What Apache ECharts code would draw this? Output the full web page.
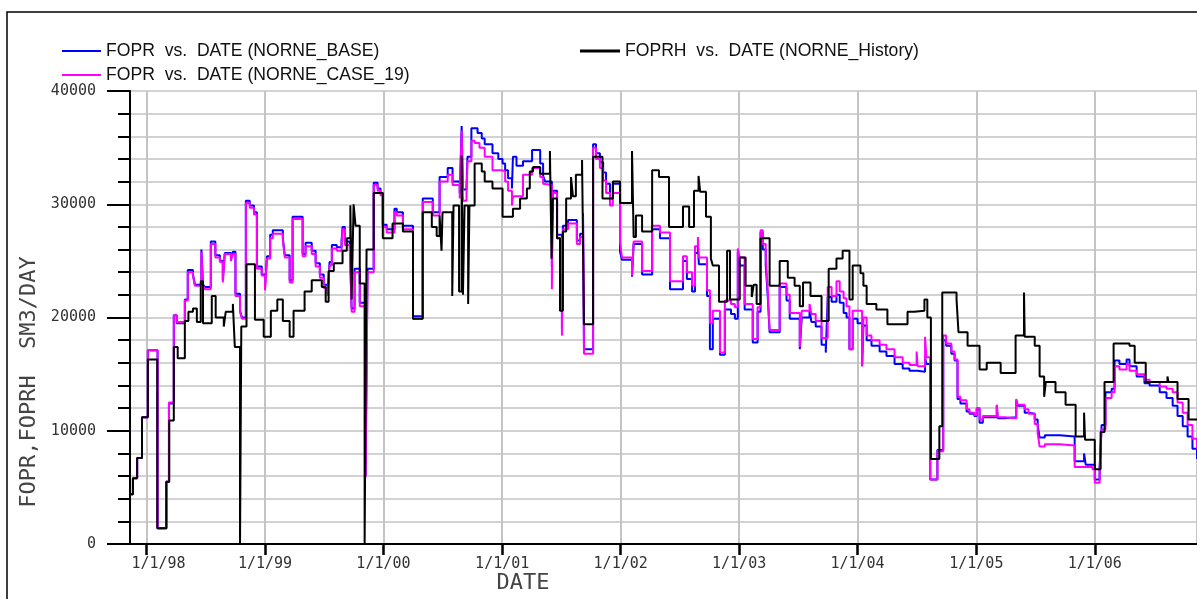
<!DOCTYPE html>
<html lang="en" style="height: 100%">
<head>
  <meta charset="utf-8">
</head>
<body style="height: 100%; margin: 0; background: #fff">
  <div id="container" style="width: 1197px; height: 599px"></div>
  <script type="text/javascript" src="https://fastly.jsdelivr.net/npm/echarts@6/dist/echarts.min.js"></script>
  <script type="text/javascript">
    // series names (legend text)
    var nameBase = 'FOPR  vs.  DATE (NORNE_BASE)';
    var nameCase = 'FOPR  vs.  DATE (NORNE_CASE_19)';
    var nameHist = 'FOPRH  vs.  DATE (NORNE_History)';

    // FOPRH history, [date, SM3/DAY], value holds until the next date
    var historyData = [
      ['1997-11-11', 4400], ['1997-11-20', 5800], ['1997-12-03', 7600], ['1997-12-18', 11200],
      ['1998-01-05', 16300], ['1998-02-03', 1400], ['1998-03-03', 5500], ['1998-03-12', 10900],
      ['1998-03-26', 17400], ['1998-04-07', 16400], ['1998-04-29', 19700], ['1998-05-10', 20500],
      ['1998-05-24', 20800], ['1998-06-05', 19600], ['1998-06-17', 23200], ['1998-06-24', 19500],
      ['1998-07-21', 21900], ['1998-08-02', 20000], ['1998-08-27', 19200], ['1998-09-02', 20500],
      ['1998-09-24', 21200], ['1998-09-30', 17400], ['1998-10-16', 0], ['1998-10-20', 19200],
      ['1998-11-05', 24700], ['1998-12-01', 19800], ['1998-12-28', 18300], ['1999-01-19', 20600],
      ['1999-02-08', 21600], ['1999-02-25', 19700], ['1999-03-18', 18300], ['1999-03-30', 20600],
      ['1999-05-03', 22300], ['1999-05-25', 23300], ['1999-06-25', 22700], ['1999-07-07', 21400],
      ['1999-07-16', 24100], ['1999-08-01', 24800], ['1999-08-28', 25900], ['1999-09-10', 27000],
      ['1999-09-21', 29900], ['1999-09-25', 21600], ['1999-10-01', 30000], ['1999-10-07', 28100],
      ['1999-10-20', 23000], ['1999-11-04', 0], ['1999-11-10', 26000], ['1999-12-02', 31000],
      ['1999-12-30', 27000], ['2000-01-29', 28300], ['2000-03-01', 27600], ['2000-04-01', 19900],
      ['2000-05-01', 29300], ['2000-05-29', 28000], ['2000-06-13', 27200], ['2000-06-22', 29000],
      ['2000-06-28', 25900], ['2000-07-01', 29300], ['2000-07-31', 21900], ['2000-08-04', 29900],
      ['2000-08-21', 22300], ['2000-08-29', 34300], ['2000-09-02', 22000], ['2000-09-07', 29900],
      ['2000-09-18', 21200], ['2000-09-22', 29900], ['2000-10-08', 33600], ['2000-10-30', 32900],
      ['2000-11-08', 32000], ['2000-12-02', 31400], ['2001-01-02', 28900], ['2001-02-03', 29600],
      ['2001-02-25', 30500], ['2001-03-18', 31400], ['2001-03-27', 32900], ['2001-04-06', 33300],
      ['2001-04-28', 32700], ['2001-05-28', 34700], ['2001-06-02', 25200], ['2001-06-06', 30500],
      ['2001-06-19', 27000], ['2001-06-28', 20600], ['2001-07-07', 27600], ['2001-07-17', 30500],
      ['2001-08-01', 32400], ['2001-08-07', 30700], ['2001-08-16', 32600], ['2001-09-04', 33900],
      ['2001-09-10', 19400], ['2001-10-08', 34200], ['2001-11-06', 30500], ['2001-12-08', 32000],
      ['2001-12-30', 30100], ['2002-02-05', 34700], ['2002-02-10', 27100], ['2002-02-17', 29000],
      ['2002-03-08', 27600], ['2002-04-08', 33000], ['2002-04-29', 32400], ['2002-05-30', 28000],
      ['2002-07-12', 29800], ['2002-07-31', 28000], ['2002-08-15', 31200], ['2002-08-29', 32500],
      ['2002-09-03', 31100], ['2002-09-21', 28900], ['2002-10-06', 25200], ['2002-10-12', 24600],
      ['2002-10-31', 21400], ['2002-11-25', 25900], ['2002-12-04', 21600], ['2003-01-03', 25300],
      ['2003-01-21', 22800], ['2003-02-09', 21800], ['2003-02-15', 22900], ['2003-02-24', 21200],
      ['2003-03-08', 27000], ['2003-04-05', 22800], ['2003-05-06', 25000], ['2003-05-31', 23500],
      ['2003-06-21', 22800], ['2003-07-07', 21000], ['2003-07-17', 23100], ['2003-08-09', 21900],
      ['2003-09-12', 19700], ['2003-10-04', 24300], ['2003-10-28', 25200], ['2003-11-16', 25900],
      ['2003-12-07', 21600], ['2003-12-17', 24600], ['2004-01-10', 23900], ['2004-01-19', 22800],
      ['2004-01-29', 21200], ['2004-02-28', 20700], ['2004-04-02', 19400], ['2004-06-03', 20500],
      ['2004-06-24', 20600], ['2004-07-25', 21600], ['2004-08-03', 20000], ['2004-08-14', 7500],
      ['2004-09-09', 10400], ['2004-09-18', 22200], ['2004-11-01', 21600], ['2004-11-07', 18700],
      ['2004-12-05', 17500], ['2005-01-11', 15400], ['2005-02-02', 16000], ['2005-03-17', 15100],
      ['2005-05-02', 18400], ['2005-05-28', 22200], ['2005-05-30', 18300], ['2005-06-30', 17500],
      ['2005-07-15', 14800], ['2005-07-29', 13000], ['2005-08-03', 14300], ['2005-09-02', 13400],
      ['2005-10-03', 12300], ['2005-11-03', 9500], ['2005-11-29', 11600], ['2005-12-02', 9200],
      ['2006-01-01', 6600], ['2006-01-19', 9900], ['2006-01-31', 14300], ['2006-02-28', 17700],
      ['2006-04-18', 17500], ['2006-05-04', 16000], ['2006-06-07', 14300], ['2006-08-13', 14800],
      ['2006-08-16', 14300], ['2006-09-13', 12800], ['2006-10-17', 11000], ['2006-11-12', 11000]
    ];

    // FOPR, NORNE_CASE_19
    var caseData = [
      ['1997-11-11', 4400], ['1997-11-20', 5800], ['1997-12-03', 7600], ['1997-12-18', 11200],
      ['1998-01-05', 17100], ['1998-02-04', 1400], ['1998-03-03', 5500], ['1998-03-11', 12500],
      ['1998-03-26', 20200], ['1998-04-04', 19600], ['1998-04-29', 21500], ['1998-05-08', 24000],
      ['1998-05-24', 23700], ['1998-05-30', 22800], ['1998-06-19', 25800], ['1998-06-24', 22800],
      ['1998-06-30', 22500], ['1998-07-18', 26500], ['1998-08-01', 25300], ['1998-08-15', 24900],
      ['1998-08-24', 23100], ['1998-08-30', 25600], ['1998-09-18', 25000], ['1998-09-24', 25600],
      ['1998-10-02', 21900], ['1998-10-16', 20500], ['1998-10-22', 19900], ['1998-11-03', 30100],
      ['1998-11-15', 29700], ['1998-11-28', 29100], ['1998-12-07', 24300], ['1998-12-22', 23700],
      ['1999-01-01', 22400], ['1999-01-07', 25200], ['1999-01-17', 27000], ['1999-01-25', 27400],
      ['1999-02-25', 26800], ['1999-03-03', 25300], ['1999-03-18', 23100], ['1999-03-27', 28700],
      ['1999-04-27', 25400], ['1999-05-06', 26300], ['1999-05-25', 25600], ['1999-06-06', 24500],
      ['1999-06-19', 23500], ['1999-07-01', 22600], ['1999-07-13', 21900], ['1999-07-19', 24600],
      ['1999-07-26', 26100], ['1999-08-10', 25900], ['1999-08-25', 26500], ['1999-08-28', 27800],
      ['1999-09-04', 26400], ['1999-09-19', 26500], ['1999-09-25', 20500], ['1999-10-04', 24000],
      ['1999-10-20', 21000], ['1999-11-07', 5900], ['1999-11-13', 24000], ['1999-12-02', 31700],
      ['1999-12-14', 31200], ['1999-12-23', 30800], ['1999-12-30', 28000], ['2000-01-11', 27500],
      ['2000-02-04', 29300], ['2000-02-11', 29000], ['2000-03-01', 27800], ['2000-04-01', 19900],
      ['2000-05-01', 30200], ['2000-06-01', 29000], ['2000-06-22', 32000], ['2000-07-17', 32600],
      ['2000-08-01', 31700], ['2000-08-23', 30500], ['2000-08-29', 36500], ['2000-09-02', 30300],
      ['2000-09-13', 30800], ['2000-09-16', 33800], ['2000-09-28', 35600], ['2000-10-08', 35400],
      ['2000-10-23', 35000], ['2000-11-08', 34200], ['2000-12-02', 33000], ['2000-12-30', 32900],
      ['2001-01-10', 32000], ['2001-01-19', 31200], ['2001-01-31', 29900], ['2001-02-03', 30700],
      ['2001-03-06', 32600], ['2001-04-03', 33200], ['2001-04-28', 32400], ['2001-05-07', 31800],
      ['2001-05-13', 31700], ['2001-06-03', 22500], ['2001-06-06', 31000], ['2001-06-19', 27000],
      ['2001-07-04', 18400], ['2001-07-07', 27800], ['2001-07-23', 28300], ['2001-08-19', 26500],
      ['2001-08-29', 27100], ['2001-09-07', 29000], ['2001-09-10', 16800], ['2001-10-08', 35000],
      ['2001-10-17', 34000], ['2001-10-29', 33200], ['2001-11-08', 32100], ['2001-11-17', 31000],
      ['2001-11-29', 29900], ['2001-12-08', 31000], ['2001-12-30', 26700], ['2002-01-05', 25300],
      ['2002-02-05', 23700], ['2002-02-10', 26700], ['2002-03-08', 24100], ['2002-04-08', 28100],
      ['2002-05-02', 27500], ['2002-06-02', 23200], ['2002-07-12', 25400], ['2002-07-24', 24000],
      ['2002-08-09', 22800], ['2002-08-18', 26300], ['2002-08-27', 27100], ['2002-08-30', 25300],
      ['2002-09-24', 22400], ['2002-10-03', 19500], ['2002-10-12', 20600], ['2002-11-03', 16900],
      ['2002-11-18', 21500], ['2002-12-07', 21200], ['2002-12-19', 20900], ['2002-12-28', 26100],
      ['2003-01-03', 25300], ['2003-01-18', 21200], ['2003-02-12', 18100], ['2003-02-27', 20900],
      ['2003-03-08', 27700], ['2003-03-15', 26500], ['2003-03-24', 25500], ['2003-03-30', 22500],
      ['2003-04-05', 18900], ['2003-05-06', 23000], ['2003-05-27', 22000], ['2003-06-06', 20400],
      ['2003-07-07', 17400], ['2003-07-13', 20600], ['2003-08-06', 21200], ['2003-08-12', 20300],
      ['2003-08-25', 19700], ['2003-09-12', 18200], ['2003-10-01', 22700], ['2003-10-13', 21900],
      ['2003-10-28', 23200], ['2003-11-07', 22300], ['2003-11-19', 21700], ['2003-11-28', 21000],
      ['2003-12-07', 17200], ['2003-12-17', 20600], ['2004-01-15', 15700], ['2004-01-19', 20000],
      ['2004-01-29', 18400], ['2004-02-13', 18000], ['2004-03-09', 17600], ['2004-03-30', 17200],
      ['2004-04-24', 16500], ['2004-05-19', 16000], ['2004-06-09', 15800], ['2004-07-01', 17000],
      ['2004-07-04', 15700], ['2004-07-27', 18300], ['2004-07-31', 16500], ['2004-08-12', 5700],
      ['2004-09-03', 8200], ['2004-09-21', 18400], ['2004-09-30', 17700], ['2004-10-16', 17000],
      ['2004-10-26', 16300], ['2004-11-04', 13000], ['2004-11-13', 12700], ['2004-12-02', 11900],
      ['2004-12-11', 11600], ['2004-12-26', 11400], ['2005-01-02', 12000], ['2005-01-11', 11000],
      ['2005-01-21', 11300], ['2005-03-05', 12300], ['2005-03-08', 11200], ['2005-03-29', 11100],
      ['2005-05-04', 12800], ['2005-05-08', 12300], ['2005-05-30', 11900], ['2005-06-11', 11500],
      ['2005-06-30', 10600], ['2005-07-09', 9800], ['2005-07-15', 8600], ['2005-07-31', 8800],
      ['2005-09-15', 8700], ['2005-10-31', 6800], ['2005-12-25', 6600], ['2006-01-01', 5400],
      ['2006-01-16', 6700], ['2006-01-22', 10100], ['2006-02-03', 12900], ['2006-02-22', 13400],
      ['2006-03-03', 15700], ['2006-03-18', 15400], ['2006-04-09', 15900], ['2006-04-18', 15300],
      ['2006-05-10', 15000], ['2006-06-03', 14500], ['2006-06-19', 14300], ['2006-07-20', 13900],
      ['2006-08-10', 13700], ['2006-08-29', 13400], ['2006-09-13', 12500], ['2006-09-29', 11600],
      ['2006-10-14', 10500], ['2006-10-29', 9300], ['2006-11-12', 8400]
    ];

    // FOPR, NORNE_BASE
    var baseData = [
      ['1997-11-11', 4400], ['1997-11-20', 5800], ['1997-12-03', 7600], ['1997-12-18', 11200],
      ['1998-01-05', 17100], ['1998-02-04', 1400], ['1998-03-03', 5500], ['1998-03-11', 12400],
      ['1998-03-26', 20200], ['1998-04-04', 19500], ['1998-04-29', 21600], ['1998-05-08', 24200],
      ['1998-05-24', 23800], ['1998-05-30', 22900], ['1998-06-19', 26000], ['1998-06-24', 22900],
      ['1998-06-30', 22700], ['1998-07-18', 26700], ['1998-08-01', 25500], ['1998-08-15', 25000],
      ['1998-08-24', 23300], ['1998-08-30', 25700], ['1998-09-18', 25200], ['1998-09-24', 25800],
      ['1998-10-02', 22100], ['1998-10-16', 20600], ['1998-10-22', 20000], ['1998-11-03', 30300],
      ['1998-11-15', 29900], ['1998-11-28', 29300], ['1998-12-07', 24500], ['1998-12-22', 23800],
      ['1999-01-01', 22600], ['1999-01-07', 25400], ['1999-01-17', 27300], ['1999-01-25', 27700],
      ['1999-02-25', 27000], ['1999-03-03', 25500], ['1999-03-18', 23300], ['1999-03-27', 28900],
      ['1999-04-27', 25600], ['1999-05-06', 26600], ['1999-05-25', 25900], ['1999-06-06', 24800],
      ['1999-06-19', 23800], ['1999-07-01', 22900], ['1999-07-13', 22100], ['1999-07-19', 24900],
      ['1999-07-26', 26400], ['1999-08-10', 26200], ['1999-08-25', 26800], ['1999-08-28', 28000],
      ['1999-09-04', 26700], ['1999-09-19', 26800], ['1999-09-25', 20800], ['1999-10-04', 24300],
      ['1999-10-20', 21300], ['1999-11-07', 6000], ['1999-11-13', 24300], ['1999-12-02', 31900],
      ['1999-12-14', 31400], ['1999-12-23', 31000], ['1999-12-30', 28200], ['2000-01-11', 27800],
      ['2000-02-04', 29600], ['2000-02-11', 29300], ['2000-03-01', 28100], ['2000-04-01', 20100],
      ['2000-05-01', 30500], ['2000-06-01', 29300], ['2000-06-22', 32400], ['2000-07-17', 33200],
      ['2000-08-01', 32000], ['2000-08-23', 31000], ['2000-08-29', 36900], ['2000-09-02', 31300],
      ['2000-09-13', 31600], ['2000-09-16', 34200], ['2000-09-28', 36700], ['2000-10-17', 36300],
      ['2000-10-30', 35800], ['2000-11-08', 35300], ['2000-12-02', 34500], ['2000-12-20', 34000],
      ['2001-01-02', 33600], ['2001-01-10', 33000], ['2001-01-19', 32300], ['2001-01-31', 31400],
      ['2001-02-03', 34200], ['2001-02-14', 33400], ['2001-03-06', 33800], ['2001-04-03', 34800],
      ['2001-04-28', 33600], ['2001-05-07', 32500], ['2001-05-13', 32000], ['2001-06-03', 24500],
      ['2001-06-06', 31200], ['2001-06-19', 27300], ['2001-07-04', 19000], ['2001-07-07', 28100],
      ['2001-07-23', 28600], ['2001-08-19', 26800], ['2001-08-29', 27400], ['2001-09-07', 29200],
      ['2001-09-10', 17200], ['2001-10-08', 35300], ['2001-10-17', 34500], ['2001-10-29', 33700],
      ['2001-11-08', 32800], ['2001-11-17', 31800], ['2001-11-29', 30500], ['2001-12-08', 31800],
      ['2001-12-30', 25800], ['2002-01-05', 25100], ['2002-02-05', 23600], ['2002-02-10', 26500],
      ['2002-03-08', 23800], ['2002-04-08', 27800], ['2002-05-02', 27000], ['2002-06-02', 22500],
      ['2002-07-12', 25000], ['2002-07-24', 23400], ['2002-08-09', 22300], ['2002-08-18', 25700],
      ['2002-08-27', 26400], ['2002-08-30', 24700], ['2002-09-24', 21900], ['2002-10-03', 17200],
      ['2002-10-12', 19900], ['2002-11-03', 16700], ['2002-11-18', 20700], ['2002-12-07', 20300],
      ['2002-12-19', 19900], ['2002-12-28', 25800], ['2003-01-03', 24600], ['2003-01-18', 20700],
      ['2003-02-12', 17800], ['2003-02-27', 20500], ['2003-03-08', 27500], ['2003-03-15', 26000],
      ['2003-03-24', 24600], ['2003-03-30', 22000], ['2003-04-05', 18700], ['2003-05-06', 22700],
      ['2003-05-27', 21500], ['2003-06-06', 19900], ['2003-07-07', 17200], ['2003-07-13', 20000],
      ['2003-08-06', 20600], ['2003-08-12', 19600], ['2003-08-25', 19200], ['2003-09-12', 17600],
      ['2003-09-25', 16900], ['2003-10-01', 21800], ['2003-10-13', 21400], ['2003-10-28', 22000],
      ['2003-11-07', 21300], ['2003-11-19', 20400], ['2003-11-28', 20000], ['2003-12-07', 17200],
      ['2003-12-17', 19900], ['2004-01-01', 19500], ['2004-01-15', 15700], ['2004-01-19', 19300],
      ['2004-01-29', 18000], ['2004-02-13', 17500], ['2004-03-09', 17000], ['2004-03-30', 16600],
      ['2004-04-24', 15900], ['2004-05-19', 15500], ['2004-06-09', 15300], ['2004-07-04', 15200],
      ['2004-07-27', 16500], ['2004-07-31', 15900], ['2004-08-12', 5700], ['2004-09-03', 8300],
      ['2004-09-21', 18000], ['2004-09-30', 17500], ['2004-10-16', 16800], ['2004-10-26', 16200],
      ['2004-11-04', 12800], ['2004-11-13', 12400], ['2004-12-02', 11700], ['2004-12-11', 11500],
      ['2004-12-26', 11300], ['2005-01-02', 11900], ['2005-01-11', 10700], ['2005-01-21', 11200],
      ['2005-03-05', 12200], ['2005-03-08', 11100], ['2005-03-29', 11200], ['2005-05-04', 12700],
      ['2005-05-08', 12200], ['2005-05-30', 11600], ['2005-06-11', 11500], ['2005-06-30', 11000],
      ['2005-07-09', 10500], ['2005-07-15', 9400], ['2005-07-31', 9600], ['2005-09-15', 9500],
      ['2005-10-31', 7300], ['2005-11-29', 8000], ['2005-12-04', 7000], ['2006-01-01', 5700],
      ['2006-01-16', 6800], ['2006-01-22', 10500], ['2006-02-03', 13400], ['2006-02-22', 13700],
      ['2006-03-03', 16200], ['2006-03-18', 15900], ['2006-04-09', 16300], ['2006-04-18', 15700],
      ['2006-05-10', 14800], ['2006-06-03', 14200], ['2006-06-19', 14000], ['2006-07-20', 13400],
      ['2006-08-10', 12900], ['2006-08-29', 12200], ['2006-09-13', 11300], ['2006-09-29', 10400],
      ['2006-10-14', 9500], ['2006-10-29', 8400], ['2006-11-12', 7500]
    ];

    var dom = document.getElementById('container');
    var myChart = echarts.init(dom, null, { renderer: 'canvas' });

    var DAY = 24 * 3600 * 1000;
    var monoFont = 'DejaVu Sans Mono';
    var legendText = { fontFamily: 'Liberation Sans, Arial', fontSize: 17.6, color: '#111' };

    function lineSeries(name, data, color) {
      return {
        name: name,
        type: 'line',
        data: data,
        step: 'end',
        showSymbol: false,
        animation: false,
        color: color,
        lineStyle: { width: 2, color: color }
      };
    }

    var option = {
      useUTC: true,
      animation: false,
      backgroundColor: '#fff',
      legend: [
        { data: [nameBase], left: 57, top: 37, icon: 'rect', itemWidth: 39, itemHeight: 2, textStyle: legendText },
        { data: [nameCase], left: 57, top: 61, icon: 'rect', itemWidth: 39, itemHeight: 2, textStyle: legendText },
        { data: [nameHist], left: 575, top: 37, icon: 'rect', itemWidth: 40, itemHeight: 3, textStyle: legendText }
      ],
      grid: { left: 130, top: 91, right: 0, bottom: 55 },
      xAxis: {
        type: 'time',
        min: '1997-11-11',
        max: '2006-11-12',
        minInterval: 365 * DAY,
        maxInterval: 366 * DAY,
        axisLine: { lineStyle: { color: '#000', width: 2 } },
        axisTick: { length: 11, lineStyle: { color: '#000', width: 2.5 } },
        axisLabel: {
          fontFamily: monoFont, fontSize: 15, color: '#333', margin: 13,
          hideOverlap: false,
          formatter: function (v) {
            var d = new Date(v);
            if (d.getUTCMonth() !== 0 || d.getUTCDate() !== 1) return '';
            var s = '1/1/' + String(d.getUTCFullYear()).slice(2);
            // the first year label sits a little right of its tick
            return d.getUTCFullYear() === 1998 ? '{first|' + s + '}' : s;
          },
          rich: {
            first: { fontFamily: monoFont, fontSize: 15, color: '#333', padding: [0, 0, 0, 24] }
          }
        },
        splitLine: { show: true, lineStyle: { color: '#c4c4c4', width: 2 } }
      },
      yAxis: {
        type: 'value',
        min: 0,
        max: 40000,
        interval: 10000,
        axisLine: { show: true, lineStyle: { color: '#000', width: 2 } },
        axisTick: { show: true, length: 23, lineStyle: { color: '#000', width: 2 } },
        minorTick: { show: true, splitNumber: 5, length: 12, lineStyle: { color: '#000', width: 2 } },
        axisLabel: {
          fontFamily: monoFont, fontSize: 15, color: '#333', margin: 34,
          formatter: function (v) { return String(v); }
        },
        splitLine: { show: true, lineStyle: { color: '#d2d2d2', width: 2 } },
        minorSplitLine: { show: true, lineStyle: { color: '#d2d2d2', width: 2 } }
      },
      graphic: [
        {
          type: 'rect', silent: true, z: -10,
          shape: { x: 7, y: 12, width: 1400, height: 800 },
          style: { fill: 'none', stroke: '#000', lineWidth: 1.5 }
        },
        {
          type: 'text', silent: true, x: 29, y: 382, rotation: Math.PI / 2,
          style: { text: 'FOPR,FOPRH  SM3/DAY', font: '22px "DejaVu Sans Mono"', fill: '#444', align: 'center', verticalAlign: 'middle' }
        },
        {
          type: 'text', silent: true, x: 523, y: 583,
          style: { text: 'DATE', font: '22px "DejaVu Sans Mono"', fill: '#444', align: 'center', verticalAlign: 'middle' }
        }
      ],
      series: [
        lineSeries(nameBase, baseData, '#0000ff'),
        lineSeries(nameCase, caseData, '#ff00ff'),
        lineSeries(nameHist, historyData, '#000000')
      ]
    };

    myChart.setOption(option);
    window.addEventListener('resize', myChart.resize);
  </script>
</body>
</html>
